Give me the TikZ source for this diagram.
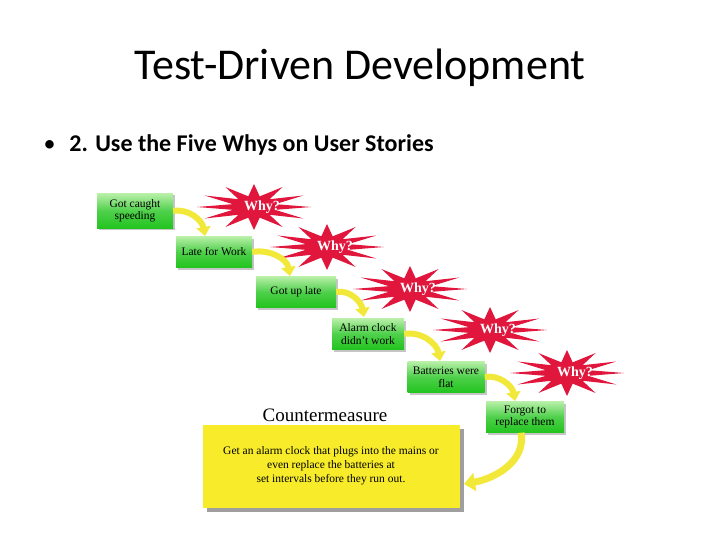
\documentclass[tikz,border=0pt]{standalone}
\usepackage{fontspec}
\setmainfont{Liberation Serif}
\newfontfamily\calib{Carlito}
\usetikzlibrary{shadows,arrows.meta}
\definecolor{gtop}{HTML}{B8F0A8}
\definecolor{gbot}{HTML}{22C41E}
\definecolor{starred}{HTML}{E0163C}
\definecolor{arry}{HTML}{F2E83A}
\definecolor{boxy}{HTML}{F8EC2A}
\tikzset{
  gbox/.style={rectangle, minimum height=31pt, inner sep=2pt, align=center, font=\fontsize{11.5}{12.5}\selectfont,
    top color=gtop, bottom color=gbot, middle color=gbot!80!white, drop shadow={shadow xshift=2pt, shadow yshift=-2pt, fill=black!45}},
  whytxt/.style={font=\bfseries\fontsize{14}{15}\selectfont, text=white},
  yarr/.style={draw=arry, line width=6pt, -{Triangle[width=14pt,length=9pt]}},
}
\newcommand{\whystar}[3]{% x y name
  \fill[starred] plot[samples at={0,...,23}, variable=\i] ({#1+(mod(\i,2)==0 ? 57 : 22)*cos(\i*15)},{#2+(mod(\i,2)==0 ? 23 : 11)*sin(\i*15)}) -- cycle;
  \node[whytxt] (#3) at (#1+8,#2) {Why?};
}
\begin{document}
\begin{tikzpicture}[x=1pt,y=-1pt]
\useasboundingbox (0,0) rectangle (720,540);
\fill[white] (0,0) rectangle (720,540);
\node[font=\calib\fontsize{44}{48}\selectfont] (title) at (360,68) {Test-Driven Development};
\node[anchor=west, font=\calib\fontsize{24}{26}\selectfont] (bul) at (40,145) {\textbullet\hspace{14pt}\textbf{2. Use the Five Whys on User Stories}};

\whystar{254}{207}{w1}
\whystar{327}{247}{w2}
\whystar{410}{289}{w3}
\whystar{490}{330}{w4}
\whystar{567}{373}{w5}

\node[gbox, minimum width=76pt, minimum height=35pt] (b1) at (135,211) {Got caught\\speeding};
\node[gbox, minimum width=76pt] (b2) at (214,252) {Late for Work};
\node[gbox, minimum width=80pt] (b3) at (296,292) {Got up late};
\node[gbox, minimum width=72pt] (b4) at (368,334) {Alarm clock\\didn't work};
\node[gbox, minimum width=77pt] (b5) at (446,377) {Batteries were\\flat};
\node[gbox, minimum width=78pt] (b6) at (525,417) {Forgot to\\replace them};

\coordinate (t2) at (205,236);
\coordinate (t3) at (290,276);
\coordinate (t4) at (364,317);
\coordinate (t5) at (440,361);
\coordinate (t6) at (515,401);
\draw[yarr] (b1.east) to[out=10,in=100] (t2);
\draw[yarr] (b2.east) to[out=10,in=100] (t3);
\draw[yarr] (b3.east) to[out=10,in=100] (t4);
\draw[yarr] (b4.east) to[out=10,in=100] (t5);
\draw[yarr] (b5.east) to[out=10,in=100] (t6);

\node[font=\fontsize{19}{21}\selectfont] (cm) at (325,415) {Countermeasure};
\node[rectangle, fill=boxy, minimum width=257pt, minimum height=83pt, align=center,
  font=\fontsize{11.5}{14}\selectfont,
  drop shadow={shadow xshift=4pt, shadow yshift=-4pt, fill=black!75}] (cbox) at (331,466)
  {Get an alarm clock that plugs into the mains or\\even replace the batteries at\\set intervals before they run out.};
\coordinate (t7) at (464,484);
\draw[yarr, line width=7pt, -{Triangle[width=18pt,length=11pt]}] ([xshift=-4pt]b6.south) to[out=-80,in=10] (t7);
\end{tikzpicture}
\end{document}
